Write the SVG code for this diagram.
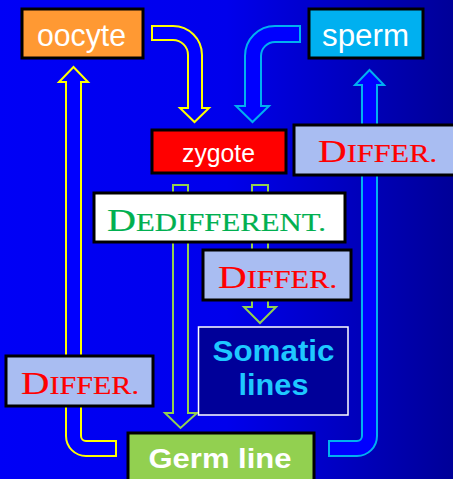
<svg xmlns="http://www.w3.org/2000/svg" width="453" height="479" viewBox="0 0 453 479">
  <defs>
    <linearGradient id="bg" x1="0" y1="0" x2="1" y2="0">
      <stop offset="0" stop-color="#0000f6"/>
      <stop offset="0.5" stop-color="#0000ec"/>
      <stop offset="1" stop-color="#000098"/>
    </linearGradient>
    <style>
      .box { stroke: #000; stroke-width: 3; }
      .sans { font-family: "Liberation Sans", Arial, sans-serif; fill: #fff; text-anchor: start; }
      .bold { font-weight: bold; }
      .caps { font-family: "Liberation Serif", "Times New Roman", serif; font-size: 32px; stroke-width: 0.2; }
      .low { font-size: 24.5px; text-transform: uppercase; }
      .differ-box { fill: #a9bdf2; }
      .differ { fill: #ff0000; stroke: #ff0000; }
      .dediff { fill: #00b050; stroke: #00b050; }
      .soma { fill: #1ec8ff; text-anchor: middle; }
      .arrow { fill: #0000ff; stroke-width: 2; stroke-linejoin: miter; }
      .yellow { stroke: #ffff00; }
      .cyan { stroke: #00b0f0; }
      .green { stroke: #92d050; }
    </style>
  </defs>

  <rect x="0" y="0" width="453" height="479" fill="url(#bg)"/>

  <!-- connectors -->
  <g id="connectors">
    <!-- oocyte to zygote -->
    <path class="arrow yellow" d="M152,26 H173 A29,29 0 0 1 202,55 V108 H209 L194.5,122 L180,108 H188 V55 A15,15 0 0 0 173,40 H152 Z"/>
    <!-- sperm to zygote -->
    <path class="arrow cyan" d="M300,26 H275 A30,30 0 0 0 245,56 V106 H236 L252.5,122 L269,106 H261 V56 A14,14 0 0 1 275,42 H300 Z"/>
    <!-- germ line back to oocyte -->
    <path class="arrow yellow" d="M116,456 H86 A20,20 0 0 1 66,436 V82 H59 L73.5,67 L88,82 H81 V436 A5,5 0 0 0 86,441 H116 Z"/>
    <!-- germ line back to sperm -->
    <path class="arrow cyan" d="M329,456 H357 A20,20 0 0 0 377,436 V85 H384 L369.5,70 L355,85 H362 V436 A5,5 0 0 1 357,441 H329 Z"/>
    <!-- zygote to germ line -->
    <path class="arrow green" d="M173,185 H188 V413 H197 L180.5,428 L165,413 H173 Z"/>
    <!-- zygote to somatic lines -->
    <path class="arrow green" d="M252,185 H268 V307 H276 L260,323 L244,307 H252 Z"/>
  </g>

  <g id="oocyte">
    <rect class="box" x="22" y="9" width="121" height="49" fill="#ff9933"/>
    <text class="sans" x="37" y="46" font-size="32" textLength="89" lengthAdjust="spacingAndGlyphs">oocyte</text>
  </g>

  <g id="sperm">
    <rect class="box" x="309" y="9" width="114" height="49" fill="#00b0f0"/>
    <text class="sans" x="322" y="46" font-size="31" textLength="87" lengthAdjust="spacingAndGlyphs">sperm</text>
  </g>

  <g id="zygote">
    <rect class="box" x="152" y="130" width="134" height="43" fill="#ff0000"/>
    <text class="sans" x="182" y="161.5" font-size="26" textLength="73" lengthAdjust="spacingAndGlyphs">zygote</text>
  </g>

  <g id="differ-right">
    <rect class="box differ-box" x="294" y="125" width="170" height="50"/>
    <text class="caps differ" x="318" y="161.5" textLength="119" lengthAdjust="spacingAndGlyphs">D<tspan class="low">iffer.</tspan></text>
  </g>

  <g id="dedifferent">
    <rect class="box" x="94" y="193" width="251" height="49" fill="#ffffff"/>
    <text class="caps dediff" x="107" y="230.5" textLength="219" lengthAdjust="spacingAndGlyphs">D<tspan class="low">edifferent.</tspan></text>
  </g>

  <g id="differ-middle">
    <rect class="box differ-box" x="203" y="250" width="148" height="50"/>
    <text class="caps differ" x="218" y="287.5" textLength="119" lengthAdjust="spacingAndGlyphs">D<tspan class="low">iffer.</tspan></text>
  </g>

  <g id="somatic-lines">
    <rect x="198.5" y="327" width="149.5" height="88" fill="#000099" stroke="#ffffff" stroke-width="1.5"/>
    <text class="sans bold soma" x="273.5" y="361" font-size="30" textLength="122" lengthAdjust="spacingAndGlyphs">Somatic</text>
    <text class="sans bold soma" x="273.5" y="395" font-size="30" textLength="70" lengthAdjust="spacingAndGlyphs">lines</text>
  </g>

  <g id="differ-left">
    <rect class="box differ-box" x="6" y="356" width="147" height="50"/>
    <text class="caps differ" x="21" y="393.5" textLength="118" lengthAdjust="spacingAndGlyphs">D<tspan class="low">iffer.</tspan></text>
  </g>

  <g id="germ-line">
    <rect class="box" x="128" y="433" width="186" height="60" fill="#92d050"/>
    <text class="sans bold" x="148.5" y="467.5" font-size="28" textLength="143" lengthAdjust="spacingAndGlyphs">Germ line</text>
  </g>
</svg>
